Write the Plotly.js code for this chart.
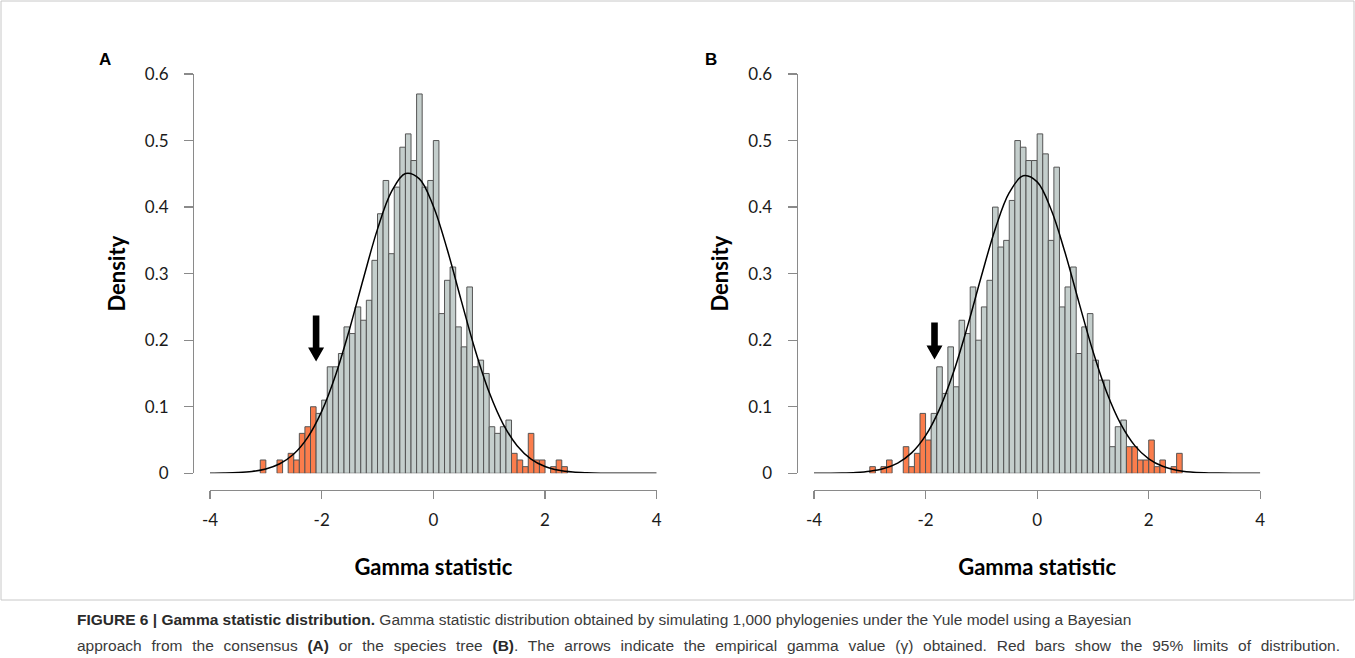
<!DOCTYPE html>
<html>
<head>
<meta charset="utf-8">
<script src="https://cdn.plot.ly/plotly-3.0.1.min.js"></script>
<style>
  html, body { margin: 0; padding: 0; background: #ffffff; }
  #wrap { position: relative; width: 1355px; height: 658px; overflow: hidden; }
  #chart { position: absolute; left: 0; top: 0; width: 1355px; height: 658px; }
  .cap { position: absolute; left: 77px; font-family: "Liberation Sans", Arial, sans-serif;
         font-size: 15.5px; line-height: 18px; color: #3a3a3a; white-space: nowrap; }
  .cap b { color: #2a2a2a; }
  #cap1 { top: 611px; }
  #cap2 { top: 637px; width: 1263px; white-space: normal; text-align: justify; text-align-last: justify; }
</style>
</head>
<body>
<div id="wrap">
<div id="chart"></div>
<div class="cap" id="cap1"></div>
<div class="cap" id="cap2"></div>
</div>
<script>
// ---------- DATA ----------
// Histogram bins (left edge, width 0.1) and density values, panel A (consensus tree)
const binStartA = -3.1;
const densityA = [0.02, 0, 0, 0.02, 0, 0.03, 0.02, 0.06, 0.07, 0.10,
                  0.09, 0.11, 0.16, 0.16, 0.18, 0.22, 0.21, 0.25, 0.23, 0.26,
                  0.32, 0.39, 0.44, 0.33, 0.43, 0.49, 0.51, 0.47, 0.57, 0.43,
                  0.44, 0.50, 0.24, 0.29, 0.31, 0.22, 0.19, 0.28, 0.16, 0.17,
                  0.15, 0.07, 0.06, 0.07, 0.08, 0.03, 0.02, 0.01, 0.06, 0.02,
                  0.02, 0, 0.01, 0.02, 0.01];
// 95% limits (bins outside are red), panel A
const lowerLimitA = -2.1;
const upperLimitA = 1.4;

// Panel B (species tree)
const binStartB = -3.0;
const densityB = [0.01, 0, 0.01, 0.02, 0, 0, 0.04, 0.01, 0.03, 0.09,
                  0.05, 0.09, 0.16, 0.12, 0.19, 0.13, 0.23, 0.21, 0.28, 0.20,
                  0.25, 0.29, 0.40, 0.34, 0.35, 0.41, 0.50, 0.49, 0.47, 0.47,
                  0.51, 0.48, 0.35, 0.46, 0.25, 0.28, 0.31, 0.18, 0.22, 0.24,
                  0.17, 0.14, 0.14, 0.04, 0.07, 0.08, 0.04, 0.04, 0.02, 0.02,
                  0.05, 0.01, 0.02, 0, 0.01, 0.03];
const lowerLimitB = -1.9;
const upperLimitB = 1.6;

const binWidth = 0.1;

// Fitted density curves
const curveX = [-4, -3.75, -3.5, -3.25, -3, -2.75, -2.5, -2.25, -2, -1.75, -1.5, -1.25, -1,
                -0.75, -0.5, -0.25, 0, 0.25, 0.5, 0.75, 1, 1.25, 1.5, 1.75, 2, 2.25, 2.5,
                2.75, 3, 3.25, 3.5, 3.75, 4];
const curveA = [0.0001, 0.0004, 0.0011, 0.0028, 0.0065, 0.0143, 0.0289, 0.0540, 0.0930, 0.1478,
                0.2169, 0.2935, 0.3669, 0.4231, 0.4504, 0.4425, 0.4013, 0.3359, 0.2595, 0.1850,
                0.1217, 0.0740, 0.0415, 0.0214, 0.0102, 0.0045, 0.0018, 0.0007, 0.0002, 0.0001,
                0.0000, 0.0000, 0.0000];
const curveB = [0.0001, 0.0002, 0.0004, 0.0012, 0.0031, 0.0072, 0.0154, 0.0307, 0.0566, 0.0965,
                0.1517, 0.2204, 0.2961, 0.3675, 0.4216, 0.4470, 0.4379, 0.3965, 0.3317, 0.2565,
                0.1833, 0.1210, 0.0738, 0.0416, 0.0217, 0.0105, 0.0047, 0.0019, 0.0007, 0.0003,
                0.0001, 0.0000, 0.0000];

// Empirical gamma values (arrows)
const gammaA = -2.10;
const gammaB = -1.84;
const arrowTipA = 0.168;
const arrowTipB = 0.171;

const xTicks = [-4, -2, 0, 2, 4];
const yTicks = [0, 0.1, 0.2, 0.3, 0.4, 0.5, 0.6];
const xTitle = 'Gamma statistic';
const yTitle = 'Density';
const panelLabels = ['A', 'B'];
const captionLine1 = '<b>FIGURE 6 | Gamma statistic distribution.</b> Gamma statistic distribution obtained by simulating 1,000 phylogenies under the Yule model using a Bayesian';
const captionLine2 = 'approach from the consensus <b>(A)</b> or the species tree <b>(B)</b>. The arrows indicate the empirical gamma value (γ) obtained. Red bars show the 95% limits of distribution.';

// ---------- BUILD ----------
const W = 1355, H = 658;
const fx = p => p / W;
const fy = p => (H - p) / H;

const GRAY = '#c4cecc';
const RED = '#fb7d4c';
const EDGE = '#555555';

function barTrace(start, dens, lo, hi, xa, ya) {
  const xs = [], ys = [], cs = [];
  dens.forEach((d, i) => {
    const left = +(start + i * binWidth).toFixed(2);
    if (d > 0) {
      xs.push(left + binWidth / 2);
      ys.push(d);
      cs.push((left < lo - 1e-9 || left >= hi - 1e-9) ? RED : GRAY);
    }
  });
  return {
    type: 'bar', x: xs, y: ys, width: binWidth, xaxis: xa, yaxis: ya,
    marker: { color: cs, line: { color: EDGE, width: 1 } },
    hoverinfo: 'skip', showlegend: false
  };
}
function curveTrace(ys, xa, ya) {
  return {
    type: 'scatter', mode: 'lines', x: curveX, y: ys, xaxis: xa, yaxis: ya,
    line: { color: '#000000', width: 1.5, shape: 'spline' },
    hoverinfo: 'skip', showlegend: false
  };
}

const traces = [
  barTrace(binStartA, densityA, lowerLimitA, upperLimitA, 'x', 'y'),
  curveTrace(curveA, 'x', 'y'),
  barTrace(binStartB, densityB, lowerLimitB, upperLimitB, 'x2', 'y2'),
  curveTrace(curveB, 'x2', 'y2')
];

const tickFont = { family: 'Lato, "Open Sans", sans-serif', size: 17, color: '#1a1a1a' };
const titleFont = { family: 'Lato, "Open Sans", sans-serif', size: 22, color: '#000000', weight: 'bold' };

function xAxis(dom) {
  return {
    domain: dom, range: [-4, 4], anchor: 'free', position: fy(490),
    tickmode: 'array', tickvals: xTicks, ticktext: xTicks.map(String),
    showline: true, linecolor: '#8a8a8a', linewidth: 1.3,
    ticks: 'outside', ticklen: 8, tickcolor: '#8a8a8a', tickwidth: 1.3,
    tickfont: tickFont, ticklabelstandoff: 6,
    showgrid: false, zeroline: false, fixedrange: true,
    title: { text: '<b>' + xTitle + '</b>', font: titleFont, standoff: 31 }
  };
}
function yAxis(xpos) {
  return {
    domain: [fy(473.3), fy(74)], range: [0, 0.6], anchor: 'free', position: xpos,
    tickmode: 'array', tickvals: yTicks, ticktext: yTicks.map(String),
    showline: true, linecolor: '#8a8a8a', linewidth: 1.3,
    ticks: 'outside', ticklen: 9, tickcolor: '#8a8a8a', tickwidth: 1.3,
    tickfont: tickFont, ticklabelstandoff: 12,
    showgrid: false, zeroline: false, fixedrange: true,
    title: { text: '<b>' + yTitle + '</b>', font: titleFont, standoff: 12 }
  };
}

function arrowShape(xa, ya, gx, tip, len) {
  const hw = 3.3, headW = 8, headH = 14;
  return {
    type: 'path', xref: xa, yref: ya, xsizemode: 'pixel', ysizemode: 'pixel',
    xanchor: gx, yanchor: tip,
    path: `M ${-hw} ${headH} L ${-hw} ${len} L ${hw} ${len} L ${hw} ${headH} L ${headW} ${headH} L 0 0 L ${-headW} ${headH} Z`,
    fillcolor: '#000000', line: { width: 0 }
  };
}

const layout = {
  width: W, height: H,
  margin: { l: 0, r: 0, t: 0, b: 0 },
  paper_bgcolor: 'rgba(0,0,0,0)', plot_bgcolor: 'rgba(0,0,0,0)',
  showlegend: false, bargap: 0,
  xaxis: xAxis([fx(210), fx(656.7)]),
  yaxis: yAxis(fx(193)),
  xaxis2: xAxis([fx(814), fx(1260.3)]),
  yaxis2: yAxis(fx(796.5)),
  shapes: [
    arrowShape('x', 'y', gammaA, arrowTipA, 46),
    arrowShape('x2', 'y2', gammaB, arrowTipB, 37),
    { type: 'rect', xref: 'paper', yref: 'paper', x0: fx(1), x1: fx(1354), y0: fy(600), y1: fy(1),
      line: { color: '#c8c8c8', width: 1 }, fillcolor: 'rgba(0,0,0,0)' }
  ],
  annotations: [
    { text: '<b>' + panelLabels[0] + '</b>', xref: 'paper', yref: 'paper', x: fx(97), y: fy(48), showarrow: false,
      font: { family: '"Liberation Sans", Arial, sans-serif', size: 17, color: '#000' } },
    { text: '<b>' + panelLabels[1] + '</b>', xref: 'paper', yref: 'paper', x: fx(711), y: fy(48), showarrow: false,
      font: { family: '"Liberation Sans", Arial, sans-serif', size: 17, color: '#000' } }
  ]
};

document.getElementById('cap1').innerHTML = captionLine1;
document.getElementById('cap2').innerHTML = captionLine2;

Plotly.newPlot('chart', traces, layout, { staticPlot: true, displayModeBar: false });
</script>
</body>
</html>
